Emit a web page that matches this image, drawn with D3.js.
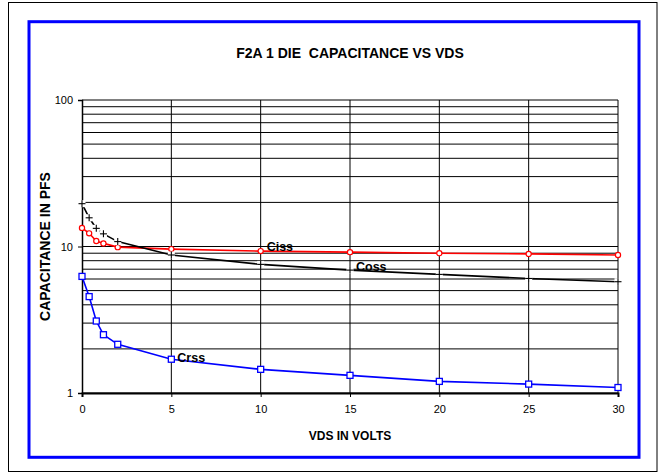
<!DOCTYPE html>
<html>
<head>
<meta charset="utf-8">
<script src="https://cdn.jsdelivr.net/npm/d3@7/dist/d3.min.js"></script>
<style>
  html, body { margin: 0; padding: 0; background: #fff; }
  svg { display: block; }
  text { font-family: Arial, "Liberation Sans", sans-serif; fill: #000; white-space: pre; }
</style>
</head>
<body>
<svg id="chart" width="661" height="475"></svg>
<script>
// Drain-source voltage sweep (V) and measured capacitances (pF)
const vds  = [0, 0.4, 0.8, 1.2, 2, 5, 10, 15, 20, 25, 30];
const ciss = [13.4, 12.3, 10.9, 10.5, 9.9, 9.6, 9.3, 9.15, 9.0, 8.9, 8.75];
const coss = [19.6, 15.7, 13.3, 12.2, 10.8, 8.75, 7.55, 6.9, 6.45, 6.05, 5.75];
const crss = [6.25, 4.55, 3.1, 2.5, 2.15, 1.7, 1.45, 1.32, 1.2, 1.15, 1.09];

const xTicks = [0, 5, 10, 15, 20, 25, 30];
const yTicks = [1, 10, 100];

const titleText = "F2A 1 DIE  CAPACITANCE VS VDS";
const xTitle = "VDS IN VOLTS";
const yTitle = "CAPACITANCE IN PFS";

const svg = d3.select("#chart");
const plot = { left: 82, right: 618, top: 100, bottom: 393 };

// Outer frames
svg.append("rect").attr("x", 8.5).attr("y", 2.5).attr("width", 648.5).attr("height", 469)
  .attr("fill", "#fff").attr("stroke", "#000").attr("stroke-width", 1);
svg.append("rect").attr("x", 29).attr("y", 21.7).attr("width", 610).attr("height", 435.6)
  .attr("fill", "#fff").attr("stroke", "#0000ff").attr("stroke-width", 3);

const x = d3.scaleLinear().domain([0, 30]).range([plot.left, plot.right]);
const y = d3.scaleLog().domain([1, 100]).range([plot.bottom, plot.top]);

// Horizontal grid at every 1..9 x 10^k
const gridVals = [];
for (let k = 0; k < 2; k++) for (let m = 1; m <= 9; m++) gridVals.push(m * Math.pow(10, k));
gridVals.push(100);

const grid = svg.append("g");
grid.selectAll("line.h").data(gridVals).join("line")
  .attr("x1", plot.left).attr("x2", plot.right)
  .attr("y1", d => y(d)).attr("y2", d => y(d))
  .attr("stroke", "#000").attr("stroke-width", 1);
grid.selectAll("line.v").data(xTicks.slice(1)).join("line")
  .attr("x1", d => x(d)).attr("x2", d => x(d))
  .attr("y1", plot.top).attr("y2", plot.bottom)
  .attr("stroke", "#000").attr("stroke-width", 1);

// Axes
const xAxis = d3.axisBottom(x).tickValues(xTicks).tickSize(4).tickPadding(8).tickFormat(d3.format("d"));
const gx = svg.append("g").attr("transform", `translate(0,${plot.bottom})`).call(xAxis);
gx.select(".domain").attr("stroke", "#000").attr("stroke-width", 2);
gx.selectAll(".tick line").attr("stroke", "#000");
gx.selectAll("text").style("font-size", "11px").attr("fill", "#000");

const yAxis = d3.axisLeft(y).tickValues(yTicks).tickSize(4).tickPadding(5).tickFormat(d3.format("d"));
const gy = svg.append("g").attr("transform", `translate(${plot.left},0)`).call(yAxis);
gy.select(".domain").attr("stroke", "#000").attr("stroke-width", 1.5);
gy.selectAll(".tick line").attr("stroke", "#000");
gy.selectAll("text").style("font-size", "11px").attr("fill", "#000");

// Series
const line = d3.line().x(d => x(d[0])).y(d => y(d[1]));
const series = [
  { name: "Ciss", vals: ciss, color: "#ff0000", marker: "circle", labelAt: 6, dy: -3 },
  { name: "Coss", vals: coss, color: "#000000", marker: "plus", labelAt: 7, dy: -2 },
  { name: "Crss", vals: crss, color: "#0000ff", marker: "square", labelAt: 5, dy: -1 }
];

series.forEach(s => {
  const pts = vds.map((v, i) => [v, s.vals[i]]);
  svg.append("path").datum(pts).attr("d", line)
    .attr("fill", "none").attr("stroke", s.color).attr("stroke-width", 1.6);
  const g = svg.append("g");
  if (s.marker === "circle") {
    g.selectAll("circle").data(pts).join("circle")
      .attr("cx", d => x(d[0])).attr("cy", d => y(d[1])).attr("r", 2.6)
      .attr("fill", "#fff").attr("stroke", s.color).attr("stroke-width", 1.2);
  } else if (s.marker === "square") {
    g.selectAll("rect").data(pts).join("rect")
      .attr("x", d => x(d[0]) - 3).attr("y", d => y(d[1]) - 3)
      .attr("width", 6).attr("height", 6)
      .attr("fill", "#fff").attr("stroke", s.color).attr("stroke-width", 1.3);
  } else {
    // plus markers sit on a small white patch that interrupts the line
    g.selectAll("rect").data(pts).join("rect")
      .attr("x", d => x(d[0]) - 3.5).attr("y", d => y(d[1]) - 3.5)
      .attr("width", 7).attr("height", 7).attr("fill", "#fff");
    g.append("g").selectAll("line").data(pts).join("line")
      .attr("x1", d => x(d[0])).attr("x2", d => x(d[0]))
      .attr("y1", d => y(d[1]) - 3.5).attr("y2", d => y(d[1]) + 3.5)
      .attr("stroke", s.color).attr("stroke-width", 1.1);
    g.append("g").selectAll("line").data(pts).join("line")
      .attr("x1", d => x(d[0]) - 3.5).attr("x2", d => x(d[0]) + 3.5)
      .attr("y1", d => y(d[1])).attr("y2", d => y(d[1]))
      .attr("stroke", s.color).attr("stroke-width", 1.1);
  }
  const i = s.labelAt;
  svg.append("text")
    .attr("x", x(vds[i]) + 6).attr("y", y(s.vals[i]) + s.dy)
    .attr("dominant-baseline", "middle")
    .style("font-size", "12.5px").style("font-weight", "bold")
    .text(s.name);
});

// Titles
svg.append("text").attr("x", (plot.left + plot.right) / 2).attr("y", 57.7)
  .attr("text-anchor", "middle").style("font-size", "14px").style("font-weight", "bold")
  .text(titleText);
svg.append("text").attr("x", (plot.left + plot.right) / 2).attr("y", 440.3)
  .attr("text-anchor", "middle").style("font-size", "12px").style("font-weight", "bold")
  .text(xTitle);
svg.append("text")
  .attr("transform", `translate(49.5,${(plot.top + plot.bottom) / 2}) rotate(-90)`)
  .attr("text-anchor", "middle").style("font-size", "14px").style("font-weight", "bold")
  .text(yTitle);
</script>
</body>
</html>
